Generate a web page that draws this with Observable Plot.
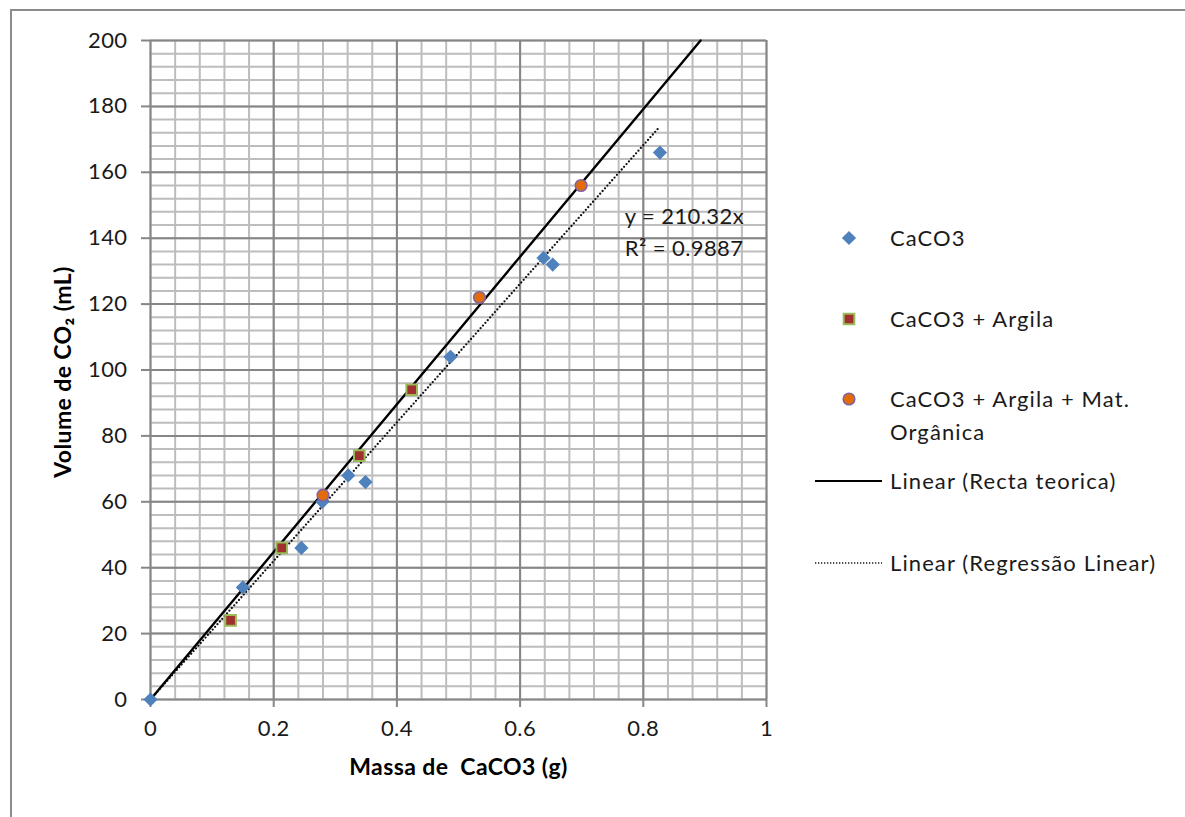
<!DOCTYPE html>
<html>
<head>
<meta charset="utf-8">
<script src="https://cdn.jsdelivr.net/npm/d3@7"></script>
<script src="https://cdn.jsdelivr.net/npm/@observablehq/plot@0.6"></script>
<style>
  html, body { margin: 0; padding: 0; background: #fff; }
  #wrap { position: relative; width: 1185px; height: 817px; overflow: hidden; font-family: Lato, "Open Sans", sans-serif; color: #1a1a1a; }
  #border { position: absolute; left: 10px; top: 9px; width: 1200px; height: 900px; border-left: 2px solid #8c8c8c; border-top: 2px solid #8c8c8c; box-sizing: border-box; }
  #chart { position: absolute; left: 0; top: 0; }
  .leg { position: absolute; font-size: 22px; line-height: 33px; letter-spacing: 1.1px; white-space: nowrap; }
  .sym { position: absolute; }
</style>
</head>
<body>
<div id="wrap">
  <div id="border"></div>
  <div id="chart"></div>
  <div id="legend"></div>
</div>
<script>
// ---- data ----
const caco3X = [0, 0.15, 0.245, 0.279, 0.321, 0.349, 0.487, 0.638, 0.653, 0.827];
const caco3Y = [0, 34, 46, 60, 68, 66, 104, 134, 132, 166];

const argilaX = [0.13, 0.213, 0.339, 0.424];
const argilaY = [24, 46, 74, 94];

const organicaX = [0.28, 0.534, 0.699];
const organicaY = [62, 122, 156];

// Linear (Recta teorica): endpoints
const rectaX = [0, 0.893];
const rectaY = [0, 200];
// Linear (Regressão Linear) y = 210.32x : endpoints
const regX = [0, 0.827];
const regY = [0, 173.9];

const xTicks = [0, 0.2, 0.4, 0.6, 0.8, 1];
const xTickLabels = ["0", "0.2", "0.4", "0.6", "0.8", "1"];
const yTicks = [0, 20, 40, 60, 80, 100, 120, 140, 160, 180, 200];
const xMinor = d3.range(0, 1.0001, 0.04);
const yMinor = d3.range(0, 200.001, 4);

const eqLines = ["y = 210.32x", "R² = 0.9887"];
const eqX = [0.77, 0.77];
const eqY = [146.5, 136.8];

const xLabel = "Massa de  CaCO3 (g)";
const yLabel = "Volume de CO₂ (mL)";

const legendNames = ["CaCO3", "CaCO3 + Argila", "CaCO3 + Argila + Mat.\nOrgânica", "Linear (Recta teorica)", "Linear (Regressão Linear)"];

// ---- build tables ----
const toRows = (xs, ys) => xs.map((x, i) => ({x, y: ys[i]}));
const caco3 = toRows(caco3X, caco3Y);
const argila = toRows(argilaX, argilaY);
const organica = toRows(organicaX, organicaY);
const recta = toRows(rectaX, rectaY);
const reg = toRows(regX, regY);
const eq = eqLines.map((t, i) => ({t, x: eqX[i], y: eqY[i]}));

const minorC = "#bdbdbd", majorC = "#868686";

const plot = Plot.plot({
  width: 1185,
  height: 817,
  marginLeft: 150,
  marginRight: 419,
  marginTop: 40,
  marginBottom: 118,
  style: {fontFamily: "Lato, 'Open Sans', sans-serif", fontSize: "22px", color: "#1a1a1a", background: "transparent", overflow: "visible", letterSpacing: "0.4px"},
  x: {domain: [0, 1]},
  y: {domain: [0, 200]},
  marks: [
    Plot.ruleX(xMinor, {stroke: minorC, strokeWidth: 2}),
    Plot.ruleY(yMinor, {stroke: minorC, strokeWidth: 2}),
    Plot.ruleX(xTicks, {stroke: majorC, strokeWidth: 2}),
    Plot.ruleY(yTicks, {stroke: majorC, strokeWidth: 2}),
    Plot.axisX(xTicks, {tickSize: 8, tickPadding: 13, stroke: majorC, strokeWidth: 2, fontSize: 22, tickFormat: (d, i) => xTickLabels[i], label: null}),
    Plot.axisY(yTicks, {tickSize: 9, tickPadding: 14, stroke: majorC, strokeWidth: 2, fontSize: 22, label: null}),
    Plot.line(reg, {x: "x", y: "y", stroke: "#111", strokeWidth: 2.3, strokeDasharray: "0 3.6", strokeLinecap: "round"}),
    Plot.line(recta, {x: "x", y: "y", stroke: "#000", strokeWidth: 2.4}),
    Plot.dot(caco3, {x: "x", y: "y", symbol: "diamond2", r: 6.4, fill: "#4f81bd", stroke: "none"}),
    Plot.dot(argila, {x: "x", y: "y", symbol: "square", r: 6, fill: "#a0302f", stroke: "#9bbb59", strokeWidth: 2}),
    Plot.dot(organica, {x: "x", y: "y", symbol: "circle", r: 5.8, fill: "#e36c09", stroke: "#8064a2", strokeWidth: 1.6}),
    Plot.text(eq, {x: "x", y: "y", text: "t", textAnchor: "start", fontSize: 22, fill: "#1a1a1a"}),
    Plot.text([xLabel], {frameAnchor: "bottom", textAnchor: "middle", dy: 75, fontSize: 23, fontWeight: "bold", fill: "#000"}),
    Plot.text([yLabel], {frameAnchor: "left", textAnchor: "middle", dx: -87, dy: 2, rotate: -90, fontSize: 23, fontWeight: "bold", fill: "#000"})
  ]
});
document.getElementById("chart").appendChild(plot);

// ---- legend ----
const leg = d3.select("#legend");
const symTop = [238, 319, 399, 481, 563];
const textTop = [221, 302, 382, 464, 546];
function addSym(i) {
  const svg = leg.append("svg").attr("class", "sym")
    .attr("width", 80).attr("height", 24)
    .style("left", "810px").style("top", (symTop[i] - 12) + "px");
  if (i === 0) {
    svg.append("path").attr("d", d3.symbol(d3.symbolDiamond2, 6.4 * 6.4 * Math.PI)())
      .attr("transform", "translate(39,12)").attr("fill", "#4f81bd");
  } else if (i === 1) {
    svg.append("path").attr("d", d3.symbol(d3.symbolSquare, 6 * 6 * Math.PI)())
      .attr("transform", "translate(39,12)").attr("fill", "#a0302f").attr("stroke", "#9bbb59").attr("stroke-width", 2);
  } else if (i === 2) {
    svg.append("circle").attr("cx", 39).attr("cy", 12).attr("r", 5.8)
      .attr("fill", "#e36c09").attr("stroke", "#8064a2").attr("stroke-width", 1.6);
  } else if (i === 3) {
    svg.append("line").attr("x1", 5).attr("x2", 72).attr("y1", 12).attr("y2", 12)
      .attr("stroke", "#000").attr("stroke-width", 2.2);
  } else {
    svg.append("line").attr("x1", 5).attr("x2", 72).attr("y1", 12).attr("y2", 12)
      .attr("stroke", "#1a1a1a").attr("stroke-width", 1.3).attr("stroke-dasharray", "1.3 1.7");
  }
}
legendNames.forEach((name, i) => {
  addSym(i);
  const d = leg.append("div").attr("class", "leg")
    .style("left", "890px").style("top", textTop[i] + "px");
  name.split("\n").forEach((line, j) => {
    if (j) d.append("br");
    d.append("span").text(line);
  });
});
</script>
</body>
</html>
